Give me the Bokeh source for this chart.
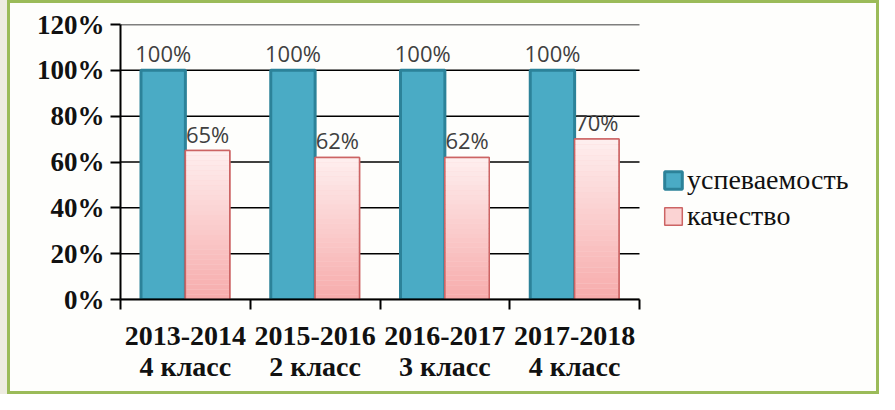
from bokeh.plotting import figure
from bokeh.models import FixedTicker, NumeralTickFormatter, Legend, LegendItem
from bokeh.core.properties import value
from bokeh.embed import file_html
from bokeh.resources import INLINE

# ---- data ----
years = ["2013-2014", "2015-2016", "2016-2017", "2017-2018"]
classes = ["4 класс", "2 класс", "3 класс", "4 класс"]
uspevaemost = [1.00, 1.00, 1.00, 1.00]
kachestvo = [0.65, 0.62, 0.62, 0.70]
uspevaemost_labels = ["100%", "100%", "100%", "100%"]
kachestvo_labels = ["65%", "62%", "62%", "70%"]
series_names = ["успеваемость", "качество"]
y_ticks = [0.0, 0.2, 0.4, 0.6, 0.8, 1.0, 1.2]

# ---- layout / style ----
W, H = 879, 394
BORDER_L, BORDER_R, BORDER_T, BORDER_B = 120, 10, 24, 95
AXIS_PX = 519  # pixel width of the category axis
BLUE_FILL = "#4aabc5"
BLUE_LINE = "#2c8299"
PINK_LINE = "#cc6464"
PINK_TOP = (254, 238, 238)
PINK_BOT = (247, 172, 172)
SERIF = "'Liberation Serif', 'Times New Roman', serif"

n = len(years)
frame_w = W - BORDER_L - BORDER_R
x_end = n * frame_w / AXIS_PX
centers = [i + 0.5 for i in range(n)]
x_blue = [c - 0.171 for c in centers]
x_pink = [c + 0.171 for c in centers]
bw = 0.342

p = figure(width=W, height=H, x_range=(0, x_end), y_range=(0, 1.2),
           output_backend="svg", toolbar_location=None,
           min_border_left=BORDER_L, min_border_right=BORDER_R,
           min_border_top=BORDER_T, min_border_bottom=BORDER_B)
p.border_fill_alpha = 0
p.background_fill_alpha = 0
p.outline_line_color = None
p.styles = {
    "background-color": "#fefefc",
    "box-shadow": ("inset 7px 0 0 0 #eeece1, inset 10px 0 0 0 #9bbb59, "
                   "inset 0 0 0 3px #9bbb59"),
}

# horizontal grid lines, limited to the category axis extent
p.xgrid.visible = False
p.ygrid.visible = False
p.segment(x0=[0] * len(y_ticks), x1=[n] * len(y_ticks), y0=y_ticks, y1=y_ticks,
          line_color="black", line_width=1.5)

# y axis
ya = p.yaxis[0]
ya.ticker = FixedTicker(ticks=y_ticks)
ya.formatter = NumeralTickFormatter(format="0%")
ya.axis_line_color = "black"
ya.axis_line_width = 2
ya.major_tick_line_color = "black"
ya.major_tick_line_width = 2
ya.major_tick_out = 10
ya.major_tick_in = 0
ya.minor_tick_line_color = None
ya.major_label_standoff = 6
ya.major_label_text_font = SERIF
ya.major_label_text_font_style = "bold"
ya.major_label_text_font_size = "27px"
ya.major_label_text_color = "#111111"

# x axis
xa = p.xaxis[0]
xa.bounds = (0, n)
xa.ticker = FixedTicker(ticks=centers, minor_ticks=[float(i) for i in range(n + 1)])
xa.major_label_overrides = {c: f"{y}\n{k}" for c, y, k in zip(centers, years, classes)}
xa.axis_line_color = "black"
xa.axis_line_width = 2
xa.major_tick_line_color = None
xa.major_tick_out = 0
xa.major_tick_in = 0
xa.minor_tick_line_color = "black"
xa.minor_tick_line_width = 2
xa.minor_tick_out = 10
xa.minor_tick_in = 0
xa.major_label_standoff = 10
xa.major_label_text_font = SERIF
xa.major_label_text_font_style = "bold"
xa.major_label_text_font_size = "28px"
xa.major_label_text_line_height = 1.0
xa.major_label_text_color = "#111111"

# blue bars
r_blue = p.vbar(x=x_blue, top=uspevaemost, width=bw, bottom=0,
                fill_color=BLUE_FILL, line_color=BLUE_LINE, line_width=3)

# pink bars: base, gradient strips, outline
r_pink = p.vbar(x=x_pink, top=kachestvo, width=bw, bottom=0,
                fill_color="#fbd3d3", line_color=PINK_LINE, line_width=1.5)
N = 30
for k in range(N):
    t = k / (N - 1)
    col = "#%02x%02x%02x" % tuple(int(round(b + (a - b) * t)) for a, b in zip(PINK_TOP, PINK_BOT))
    bots = [v * k / N for v in kachestvo]
    tops = [v * (k + 1) / N for v in kachestvo]
    p.vbar(x=x_pink, top=tops, bottom=bots, width=bw, fill_color=col, line_color=None)
p.vbar(x=x_pink, top=kachestvo, width=bw, bottom=0,
       fill_color=None, line_color=PINK_LINE, line_width=1.5)

# value labels
lab_kw = dict(text_align="center", text_baseline="alphabetic", y_offset=-17,
              text_font=value("Open Sans"), text_font_size="22px", text_color="#404040")
p.text(x=x_blue, y=uspevaemost, text=uspevaemost_labels, **lab_kw)
p.text(x=x_pink, y=kachestvo, text=kachestvo_labels, **lab_kw)

# legend
legend = Legend(items=[LegendItem(label=series_names[0], renderers=[r_blue]),
                       LegendItem(label=series_names[1], renderers=[r_pink])],
                location=(542, 67), orientation="vertical",
                background_fill_alpha=0, border_line_color=None,
                padding=0, margin=0, spacing=4,
                glyph_width=22, glyph_height=22, label_standoff=3,
                label_text_font=SERIF, label_text_font_size="28px",
                label_text_color="#111111")
p.add_layout(legend)

open("out.html", "w").write(file_html(p, INLINE))
